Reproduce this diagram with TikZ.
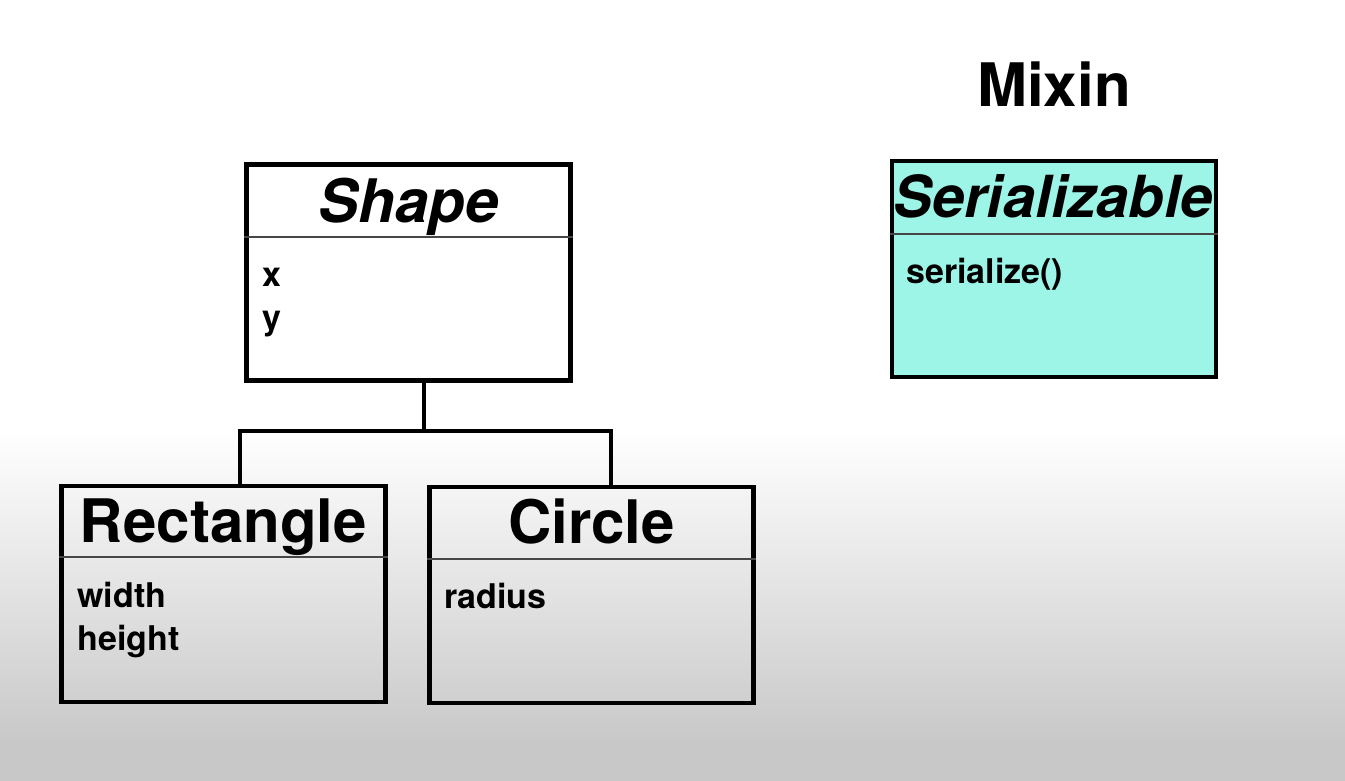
\documentclass[tikz,border=0pt]{standalone}
\usepackage{fontspec}
\setmainfont{TeX Gyre Heros}
\usetikzlibrary{positioning}

\definecolor{bggray}{RGB}{200,200,200}
\definecolor{mixincyan}{RGB}{157,245,232}
\definecolor{sepgray}{RGB}{70,70,70}

\tikzset{
    classbox/.style={draw, line width=2.4pt, minimum width=162pt, minimum height=108pt, inner sep=0pt},
    classname/.style={anchor=base, font=\fontsize{30}{35}\selectfont\bfseries},
    attr/.style={anchor=base west, inner sep=0pt, font=\fontsize{17}{20}\selectfont\bfseries},
    sepline/.style={draw=sepgray, line width=1pt},
    inherit/.style={line width=2.2pt, line join=miter}
}

\begin{document}
\begin{tikzpicture}[x=0.5pt, y=-0.5pt]
        \useasboundingbox (0,0) rectangle (1345,781);
        \fill[white] (0,0) rectangle (1345,430);
        \shade[top color=white, bottom color=bggray] (0,430) rectangle (1345,745);
        \fill[bggray] (0,745) rectangle (1345,781);

        % classes
        \node[classbox] (shape) at (408.5,272.5) {};
        \node[classbox, fill=mixincyan] (serial) at (1054,269) {};
        \node[classbox] (rect) at (223.5,594) {};
        \node[classbox] (circ) at (591.5,595) {};

        \draw[sepline] (shape.west |- 0,237) -- (shape.east |- 0,237);
        \draw[sepline] (serial.west |- 0,234) -- (serial.east |- 0,234);
        \draw[sepline] (rect.west |- 0,557) -- (rect.east |- 0,557);
        \draw[sepline] (circ.west |- 0,559) -- (circ.east |- 0,559);

        \node[classname] (shapename) at (408.5,222) {\itshape Shape};
        \node[classname, font=\fontsize{29}{34}\selectfont\bfseries] (serialname) at (1053,218) {\itshape Serializable};
        \node[classname] (rectname) at (223.5,542) {Rectangle};
        \node[classname] (circname) at (591.5,543) {Circle};
        \node[classname] (mixin) at (1054,107) {Mixin};

        % attributes
        \node[attr] (ax) at (262,286) {x};
        \node[attr] (ay) at (262,329) {y};
        \node[attr] (aser) at (906,283) {serialize()};
        \node[attr] (awidth) at (77,607) {width};
        \node[attr] (aheight) at (77,650) {height};
        \node[attr] (aradius) at (444,608) {radius};

        % inheritance
        \coordinate (fork) at (424,431);
        \draw[inherit] (shape.south -| fork) -- (fork);
        \draw[inherit] (rect.north -| 240,0) |- (fork) -| (circ.north -| 611,0);
    \end{tikzpicture}
\end{document}
